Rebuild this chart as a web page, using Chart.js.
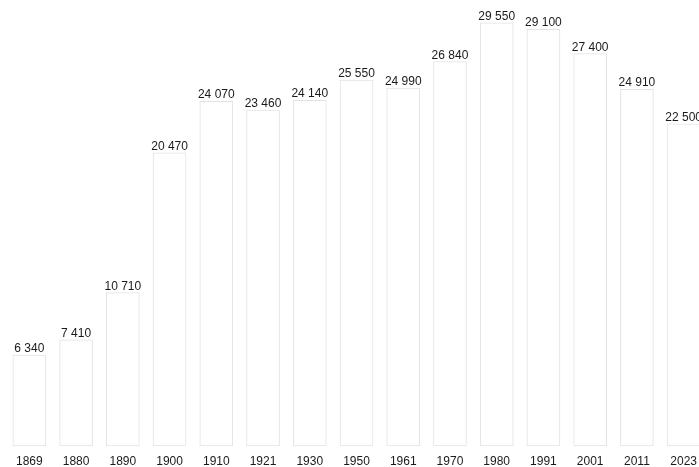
<!DOCTYPE html>
<html>
<head>
<meta charset="utf-8">
<script src="https://cdn.jsdelivr.net/npm/chart.js@4/dist/chart.umd.min.js"></script>
<style>
  html, body { margin: 0; padding: 0; background: #fff; overflow: hidden; }
  #wrap { position: relative; width: 707px; height: 467px; }
</style>
</head>
<body>
<div id="wrap"><canvas id="chart"></canvas></div>
<script>
const years = ['1869', '1880', '1890', '1900', '1910', '1921', '1930', '1950', '1961', '1970', '1980', '1991', '2001', '2011', '2023'];
const population = [6340, 7410, 10710, 20470, 24070, 23460, 24140, 25550, 24990, 26840, 29550, 29100, 27400, 24910, 22500];

const fmt = v => String(v).replace(/\B(?=(\d{3})+(?!\d))/g, ' ');

const valueLabels = {
  id: 'valueLabels',
  afterDatasetsDraw(chart) {
    const ctx = chart.ctx;
    const meta = chart.getDatasetMeta(0);
    ctx.save();
    ctx.font = '12px "Liberation Sans", Arial, sans-serif';
    ctx.fillStyle = '#1a1a1a';
    ctx.textAlign = 'center';
    ctx.textBaseline = 'alphabetic';
    meta.data.forEach((bar, i) => {
      ctx.fillText(fmt(population[i]), bar.x, bar.y - 3);
    });
    ctx.restore();
  }
};

new Chart(document.getElementById('chart'), {
  type: 'bar',
  data: {
    labels: years,
    datasets: [{
      data: population,
      backgroundColor: '#ffffff',
      borderColor: '#e3e3e3',
      borderWidth: 1,
      borderSkipped: false,
      barThickness: 33
    }]
  },
  options: {
    responsive: true,
    maintainAspectRatio: false,
    animation: false,
    layout: { padding: { left: 6, right: 0, top: 2, bottom: 0 } },
    plugins: { legend: { display: false }, tooltip: { enabled: false } },
    scales: {
      x: {
        grid: { display: false, drawTicks: false },
        border: { display: false },
        ticks: {
          color: '#1a1a1a',
          font: { family: '"Liberation Sans", Arial, sans-serif', size: 12 },
          padding: 8,
          maxRotation: 0
        },
        afterFit: scale => { scale.height = 21; }
      },
      y: {
        display: false,
        min: 0,
        max: 31000
      }
    }
  },
  plugins: [valueLabels]
});
</script>
</body>
</html>
